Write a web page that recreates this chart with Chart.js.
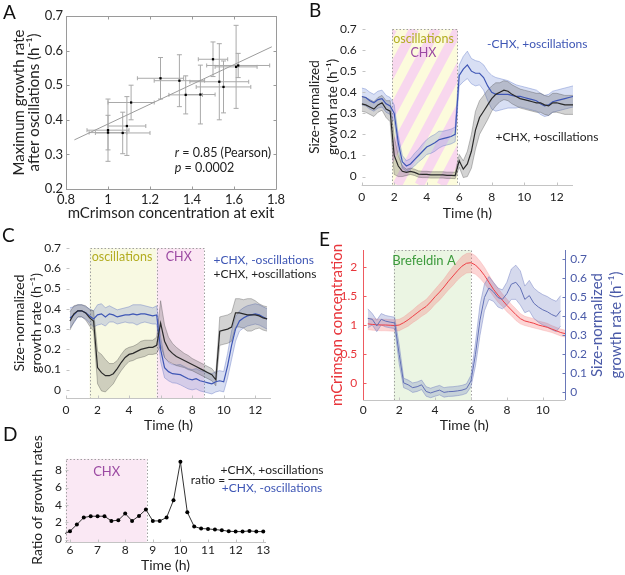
<!DOCTYPE html>
<html>
<head>
<meta charset="utf-8">
<script src="https://cdn.jsdelivr.net/npm/chart.js@4.4.1/dist/chart.umd.min.js"></script>
<style>
  body { margin: 0; background: #fff; }
  #fig { position: relative; width: 625px; height: 575px; overflow: hidden; font-family: Lato, sans-serif; }
  #fig canvas { position: absolute; }
  .tag { position: absolute; font-size: 19px; line-height: 1; color: #111; }
</style>
</head>
<body>
<div id="fig">
  <canvas id="chartA" width="305" height="225" style="left:0;top:0"></canvas>
  <canvas id="chartB" width="320" height="225" style="left:305px;top:0"></canvas>
  <canvas id="chartC" width="320" height="210" style="left:0;top:225px"></canvas>
  <canvas id="chartE" width="320" height="210" style="left:305px;top:225px"></canvas>
  <canvas id="chartD" width="330" height="140" style="left:0;top:435px"></canvas>
  <div class="tag" style="left:3px;top:2px">A</div>
  <div class="tag" style="left:309px;top:0px">B</div>
  <div class="tag" style="left:2px;top:225px">C</div>
  <div class="tag" style="left:3px;top:424px">D</div>
  <div class="tag" style="left:319px;top:229px">E</div>
</div>
<script>
// ---------- A: max growth rate vs mCrimson at exit ----------
const exitMcrimson    = [1.00, 1.00, 1.07, 1.09, 1.11, 1.25, 1.34, 1.37, 1.44, 1.50, 1.53, 1.55, 1.61, 1.62];
const exitMcrimsonErr = [0.09, 0.10, 0.13, 0.09, 0.11, 0.11, 0.12, 0.08, 0.07, 0.07, 0.14, 0.13, 0.10, 0.15];
const maxGrowth       = [0.363, 0.370, 0.362, 0.382, 0.450, 0.520, 0.513, 0.472, 0.473, 0.575, 0.510, 0.495, 0.553, 0.557];
const maxGrowthErr    = [0.05, 0.09, 0.06, 0.085, 0.05, 0.06, 0.075, 0.055, 0.085, 0.05, 0.11, 0.075, 0.12, 0.035];
const fitLineX = [0.84, 1.78];
const fitLineY = [0.342, 0.611];
const ticksAx = [0.8, 1, 1.2, 1.4, 1.6, 1.8];
const ticksAy = [0.2, 0.3, 0.4, 0.5, 0.6, 0.7];

// ---------- B: CHX during oscillations ----------
const timeB = [0, 0.25, 0.5, 0.75, 1, 1.25, 1.5, 1.75, 2, 2.25, 2.5, 2.75, 3, 3.25, 3.5, 3.75, 4, 4.25, 4.5, 4.75,
  5, 5.25, 5.5, 5.75, 6, 6.25, 6.5, 6.75, 7, 7.25, 7.5, 7.75, 8, 8.25, 8.5, 8.75, 9, 9.25, 9.5, 9.75,
  10, 10.25, 10.5, 10.75, 11, 11.25, 11.5, 11.75, 12, 12.25, 12.5, 12.75, 13];
const bNoChx = [0.38, 0.375, 0.36, 0.35, 0.365, 0.37, 0.345, 0.335, 0.3, 0.16, 0.07, 0.05, 0.06, 0.08, 0.1, 0.12,
  0.14, 0.15, 0.16, 0.175, 0.18, 0.185, 0.19, 0.2, 0.48, 0.51, 0.53, 0.5, 0.49, 0.49, 0.47, 0.43, 0.4, 0.39,
  0.39, 0.39, 0.39, 0.385, 0.38, 0.38, 0.375, 0.37, 0.365, 0.36, 0.345, 0.335, 0.34, 0.355, 0.36, 0.365, 0.37, 0.375, 0.38];
const bNoChxErr = [0.04, 0.04, 0.04, 0.04, 0.04, 0.04, 0.04, 0.04, 0.04, 0.035, 0.03, 0.025, 0.025, 0.03, 0.03, 0.035,
  0.035, 0.04, 0.04, 0.04, 0.035, 0.035, 0.035, 0.035, 0.05, 0.06, 0.065, 0.06, 0.06, 0.055, 0.06, 0.07, 0.08, 0.08,
  0.075, 0.07, 0.065, 0.06, 0.055, 0.05, 0.05, 0.05, 0.05, 0.05, 0.05, 0.05, 0.05, 0.05, 0.05, 0.05, 0.05, 0.05, 0.05];
const bChx = [0.345, 0.34, 0.33, 0.32, 0.34, 0.35, 0.32, 0.31, 0.1, 0.05, 0.025, 0.02, 0.025, 0.02, 0.012, 0.01,
  0.01, 0.008, 0.008, 0.008, 0.008, 0.006, 0.006, 0.005, 0.075, 0.035, 0.06, 0.12, 0.22, 0.28, 0.31, 0.34, 0.37, 0.39,
  0.4, 0.41, 0.405, 0.39, 0.38, 0.37, 0.365, 0.36, 0.355, 0.35, 0.35, 0.34, 0.335, 0.35, 0.35, 0.345, 0.34, 0.34, 0.34];
const bChxErr = [0.035, 0.035, 0.035, 0.035, 0.035, 0.035, 0.04, 0.05, 0.09, 0.05, 0.025, 0.015, 0.015, 0.015, 0.015, 0.015,
  0.015, 0.015, 0.015, 0.015, 0.015, 0.015, 0.015, 0.015, 0.03, 0.04, 0.06, 0.08, 0.09, 0.08, 0.075, 0.07, 0.06, 0.055,
  0.045, 0.045, 0.045, 0.045, 0.045, 0.045, 0.045, 0.045, 0.045, 0.045, 0.045, 0.045, 0.045, 0.045, 0.045, 0.045, 0.045, 0.045, 0.045];
const ticksTime = [0, 2, 4, 6, 8, 10, 12];
const ticksRate = [0, 0.1, 0.2, 0.3, 0.4, 0.5, 0.6, 0.7];

// ---------- C: CHX after oscillations ----------
const timeC = timeB.slice(1, 52);
const cNoOsc = [0.355, 0.37, 0.39, 0.39, 0.38, 0.365, 0.35, 0.37, 0.375, 0.36, 0.375, 0.37, 0.36, 0.365, 0.37, 0.37,
  0.375, 0.37, 0.375, 0.375, 0.37, 0.365, 0.37, 0.2, 0.11, 0.09, 0.08, 0.078, 0.075, 0.065, 0.055, 0.05, 0.055,
  0.045, 0.04, 0.035, 0.03, 0.04, 0.045, 0.04, 0.12, 0.22, 0.3, 0.34, 0.355, 0.365, 0.37, 0.375, 0.37, 0.36, 0.35];
const cNoOscErr = [0.05, 0.04, 0.03, 0.03, 0.03, 0.035, 0.04, 0.05, 0.05, 0.045, 0.04, 0.035, 0.035, 0.035, 0.035,
  0.04, 0.045, 0.05, 0.045, 0.04, 0.04, 0.04, 0.045, 0.06, 0.05, 0.045, 0.045, 0.045, 0.05, 0.05, 0.05, 0.05, 0.05,
  0.05, 0.05, 0.05, 0.05, 0.05, 0.05, 0.05, 0.06, 0.07, 0.06, 0.05, 0.05, 0.05, 0.05, 0.05, 0.05, 0.05, 0.05];
const cOsc = [0.34, 0.375, 0.39, 0.39, 0.38, 0.355, 0.34, 0.11, 0.085, 0.07, 0.07, 0.08, 0.105, 0.135, 0.16, 0.175,
  0.18, 0.19, 0.2, 0.205, 0.21, 0.21, 0.22, 0.33, 0.24, 0.2, 0.18, 0.165, 0.155, 0.145, 0.135, 0.125, 0.115, 0.105,
  0.095, 0.085, 0.075, 0.05, 0.29, 0.295, 0.3, 0.31, 0.38, 0.38, 0.375, 0.37, 0.37, 0.37, 0.365, 0.355, 0.35];
const cOscErr = [0.045, 0.04, 0.03, 0.03, 0.035, 0.04, 0.05, 0.08, 0.09, 0.08, 0.06, 0.05, 0.04, 0.04, 0.04, 0.035,
  0.035, 0.035, 0.04, 0.04, 0.035, 0.035, 0.04, 0.11, 0.08, 0.06, 0.05, 0.045, 0.04, 0.035, 0.035, 0.03, 0.03, 0.03,
  0.03, 0.03, 0.03, 0.03, 0.07, 0.07, 0.07, 0.07, 0.07, 0.07, 0.07, 0.08, 0.08, 0.07, 0.06, 0.06, 0.06];

// ---------- D: ratio of growth rates ----------
const timeD = [5.75, 6, 6.25, 6.5, 6.75, 7, 7.25, 7.5, 7.75, 8, 8.25, 8.5, 8.75, 9, 9.25, 9.5, 9.75, 10, 10.25,
  10.5, 10.75, 11, 11.25, 11.5, 11.75, 12, 12.25, 12.5, 12.75, 13];
const growthRatio = [0.6, 0.96, 1.73, 2.54, 2.69, 2.69, 2.69, 2.15, 2.23, 3.0, 2.15, 2.73, 3.46, 2.15, 2.15, 2.54,
  4.54, 8.96, 3.15, 1.5, 1.27, 1.23, 1.15, 1.08, 0.96, 0.92, 0.92, 1.0, 0.92, 0.92];
const ticksDx = [6, 7, 8, 9, 10, 11, 12, 13];
const ticksDy = [0, 2, 4, 6, 8];

// ---------- E: Brefeldin A ----------
const timeE = [0.25, 0.5, 0.75, 1, 1.25, 1.5, 1.75, 2, 2.25, 2.5, 2.75, 3, 3.25, 3.5, 3.75, 4, 4.25, 4.5, 4.75, 5,
  5.25, 5.5, 5.75, 6, 6.25, 6.5, 6.75, 7, 7.25, 7.5, 7.75, 8, 8.25, 8.5, 8.75, 9, 9.25, 9.5, 9.75, 10, 10.25,
  10.5, 10.75, 11, 11.25];
const eMcrimson = [1.02, 1.01, 1.005, 1.0, 1.0, 0.995, 0.99, 1.0, 1.04, 1.09, 1.15, 1.21, 1.27, 1.32, 1.4, 1.49,
  1.57, 1.66, 1.76, 1.85, 1.94, 2.02, 2.07, 2.08, 2.04, 1.96, 1.86, 1.74, 1.62, 1.52, 1.43, 1.34, 1.26, 1.18, 1.11,
  1.07, 1.05, 1.03, 1.0, 0.98, 0.96, 0.93, 0.9, 0.87, 0.85];
const eMcrimsonErr = [0.1, 0.1, 0.1, 0.1, 0.1, 0.1, 0.1, 0.1, 0.1, 0.11, 0.11, 0.12, 0.12, 0.12, 0.13, 0.13, 0.14,
  0.14, 0.15, 0.16, 0.16, 0.17, 0.17, 0.17, 0.16, 0.15, 0.14, 0.13, 0.12, 0.12, 0.11, 0.11, 0.1, 0.1, 0.09, 0.08,
  0.08, 0.08, 0.07, 0.07, 0.07, 0.06, 0.06, 0.06, 0.06];
const eGrowth = [0.39, 0.385, 0.35, 0.385, 0.375, 0.37, 0.366, 0.2, 0.05, 0.04, 0.025, 0.03, 0.04, 0.005, -0.003,
  0.005, 0.012, 0.0, 0.004, 0.005, 0.008, 0.012, 0.02, 0.06, 0.2, 0.38, 0.5, 0.55, 0.53, 0.5, 0.49, 0.52, 0.57,
  0.58, 0.55, 0.49, 0.51, 0.47, 0.45, 0.435, 0.425, 0.41, 0.4, 0.43];
const eGrowthErr = [0.05, 0.03, 0.03, 0.03, 0.03, 0.03, 0.03, 0.05, 0.025, 0.025, 0.025, 0.025, 0.025, 0.025, 0.025,
  0.025, 0.025, 0.025, 0.025, 0.025, 0.025, 0.025, 0.025, 0.03, 0.06, 0.08, 0.07, 0.06, 0.05, 0.05, 0.05, 0.06,
  0.08, 0.09, 0.09, 0.07, 0.08, 0.08, 0.08, 0.08, 0.08, 0.08, 0.08, 0.08];
const ticksEx = [0, 2, 4, 6, 8, 10];
const ticksEl = [0, 0.5, 1, 1.5, 2];

const FONT = 'Lato';
const INK = '#222';
const BLUE = '#3e56b5';
const OLIVE = '#b3ad22';
const PURPLE = '#9b49a2';

function px(chart, id, v) { return chart.scales[id].getPixelForValue(v); }

function axis(min, max, tickVals, size, fontSize, pad, more) {
  const cfg = {
    type: 'linear', min: min, max: max,
    grid: { display: false, drawTicks: false },
    border: { display: false },
    ticks: { autoSkip: false, maxRotation: 0, padding: pad, color: INK,
             font: { family: FONT, size: fontSize }, callback: v => String(v) },
    afterBuildTicks: s => { s.ticks = tickVals.map(v => ({ value: v })); },
    afterFit: s => { if (s.isHorizontal()) s.height = size; else s.width = size; }
  };
  return Object.assign(cfg, more || {});
}

function axisTitle(text, size, padding, color, lh) {
  return { display: true, text: text, color: color || INK, padding: padding,
           font: { family: FONT, size: size, lineHeight: lh || 1.2 } };
}

function options(padding, scales) {
  return {
    responsive: false, animation: false, events: [],
    layout: { padding: padding },
    plugins: { legend: { display: false }, tooltip: { enabled: false } },
    elements: { line: { tension: 0 } },
    scales: scales
  };
}

function bandSets(xs, mean, err, fill, edge, order, yId) {
  const shared = { pointRadius: 0, borderColor: edge, borderWidth: 0.8, order: order, yAxisID: yId || 'y' };
  return [
    Object.assign({ data: xs.map((x, i) => ({ x: x, y: mean[i] - err[i] })), fill: false }, shared),
    Object.assign({ data: xs.map((x, i) => ({ x: x, y: mean[i] + err[i] })), fill: '-1', backgroundColor: fill }, shared)
  ];
}

function lineSet(xs, ys, color, width, order, yId) {
  return { data: xs.map((x, i) => ({ x: x, y: ys[i] })), borderColor: color, borderWidth: width,
           pointRadius: 0, fill: false, order: order, yAxisID: yId || 'y' };
}

// shaded treatment windows with dotted outline
function shadeBoxes(boxes) {
  return {
    id: 'shadeBoxes',
    beforeDatasetsDraw(chart) {
      const ctx = chart.ctx, a = chart.chartArea;
      boxes.forEach(b => {
        const x0 = Math.max(px(chart, 'x', b.from), a.left);
        const x1 = px(chart, 'x', b.to);
        const y0 = px(chart, b.yScale || 'y', b.top);
        const y1 = a.bottom;
        ctx.save();
        ctx.fillStyle = b.fill;
        ctx.fillRect(x0, y0, x1 - x0, y1 - y0);
        if (b.stripe) {
          ctx.beginPath(); ctx.rect(x0, y0, x1 - x0, y1 - y0); ctx.clip();
          const h = y1 - y0, ang = 62 * Math.PI / 180, run = h / Math.tan(ang), period = 22;
          ctx.strokeStyle = b.stripe;
          ctx.lineWidth = period / 2 * Math.sin(ang);
          for (let s = x0 - run - period; s < x1 + period; s += period) {
            ctx.beginPath(); ctx.moveTo(s, y1); ctx.lineTo(s + run, y0); ctx.stroke();
          }
        }
        ctx.restore();
        ctx.save();
        ctx.strokeStyle = '#a0a0a0'; ctx.lineWidth = 1; ctx.setLineDash([1.5, 2]);
        ctx.strokeRect(Math.round(x0) + 0.5, Math.round(y0) + 0.5, Math.round(x1 - x0), Math.round(y1 - y0));
        ctx.restore();
      });
    }
  };
}

// axis lines and inward tick marks (matlab style)
function axisMarks(specs) {
  return {
    id: 'axisMarks',
    afterDatasetsDraw(chart) {
      const ctx = chart.ctx, a = chart.chartArea;
      specs.forEach(s => {
        const horiz = s.edge === 'bottom' || s.edge === 'top';
        const sc = chart.scales[s.scale];
        const e = Math.round(a[s.edge]) + 0.5;
        const dir = (s.edge === 'bottom' || s.edge === 'right') ? -1 : 1;
        ctx.save();
        ctx.strokeStyle = s.color; ctx.lineWidth = 1;
        ctx.beginPath();
        if (s.line) {
          if (horiz) { ctx.moveTo(a.left, e); ctx.lineTo(a.right, e); }
          else { ctx.moveTo(e, a.top); ctx.lineTo(e, a.bottom); }
        }
        s.vals.forEach(v => {
          const p = Math.round(sc.getPixelForValue(v)) + 0.5;
          if (horiz) { ctx.moveTo(p, e); ctx.lineTo(p, e + dir * s.len); }
          else { ctx.moveTo(e, p); ctx.lineTo(e + dir * s.len, p); }
        });
        ctx.stroke();
        ctx.restore();
      });
    }
  };
}

// text labels placed in data coordinates
function notes(items) {
  return {
    id: 'notes',
    afterDraw(chart) {
      const ctx = chart.ctx;
      items.forEach(n => {
        const x = px(chart, 'x', n.x), y = px(chart, n.yScale || 'y', n.y);
        ctx.save();
        if (n.rule) {
          const x1 = px(chart, 'x', n.x1);
          ctx.strokeStyle = n.color || INK; ctx.lineWidth = 1;
          ctx.beginPath(); ctx.moveTo(x, Math.round(y) + 0.5); ctx.lineTo(x1, Math.round(y) + 0.5); ctx.stroke();
          ctx.restore();
          return;
        }
        ctx.textBaseline = 'middle';
        ctx.fillStyle = n.color || INK;
        const parts = n.parts || [{ text: n.text }];
        const font = p => (p.italic ? 'italic ' : '') + (n.size || 12) + 'px ' + FONT;
        let total = 0;
        parts.forEach(p => { ctx.font = font(p); total += ctx.measureText(p.text).width; });
        let cx = x;
        if (!n.align || n.align === 'center') cx = x - total / 2;
        else if (n.align === 'right') cx = x - total;
        parts.forEach(p => { ctx.font = font(p); ctx.fillText(p.text, cx, y); cx += ctx.measureText(p.text).width; });
        ctx.restore();
      });
    }
  };
}

function errorBars(xs, ys, xe, ye) {
  return {
    id: 'errorBars',
    beforeDatasetsDraw(chart) {
      const ctx = chart.ctx, sx = chart.scales.x, sy = chart.scales.y;
      ctx.save(); ctx.strokeStyle = '#a9a9a9'; ctx.lineWidth = 1; ctx.beginPath();
      xs.forEach((x, i) => {
        const cx = sx.getPixelForValue(x), cy = sy.getPixelForValue(ys[i]);
        const l = sx.getPixelForValue(x - xe[i]), r = sx.getPixelForValue(x + xe[i]);
        const t = sy.getPixelForValue(ys[i] + ye[i]), b = sy.getPixelForValue(ys[i] - ye[i]);
        ctx.moveTo(l, cy); ctx.lineTo(r, cy);
        ctx.moveTo(l, cy - 2); ctx.lineTo(l, cy + 2);
        ctx.moveTo(r, cy - 2); ctx.lineTo(r, cy + 2);
        ctx.moveTo(cx, t); ctx.lineTo(cx, b);
        ctx.moveTo(cx - 2.5, t); ctx.lineTo(cx + 2.5, t);
        ctx.moveTo(cx - 2.5, b); ctx.lineTo(cx + 2.5, b);
      });
      ctx.stroke(); ctx.restore();
    }
  };
}

// ---------- chart A ----------
new Chart(document.getElementById('chartA'), {
  type: 'scatter',
  data: { datasets: [
    { data: exitMcrimson.map((x, i) => ({ x: x, y: maxGrowth[i] })), pointStyle: 'rect', pointRadius: 1.6,
      backgroundColor: '#000', borderWidth: 0, order: 0 },
    { data: fitLineX.map((x, i) => ({ x: x, y: fitLineY[i] })), showLine: true, borderColor: '#9c9c9c',
      borderWidth: 1, pointRadius: 0, order: 1 }
  ] },
  options: options({ left: 0, top: 16, right: 29, bottom: 0 }, {
    x: axis(0.8, 1.8, ticksAx, 36, 13, 3, { title: axisTitle('mCrimson concentration at exit', 15, { bottom: 3 }) }),
    y: axis(0.2, 0.7, ticksAy, 66, 13, 3, { title: axisTitle(['Maximum growth rate', 'after oscillations (h⁻¹)'], 15, { top: 12 }, INK, 1.0) })
  }),
  plugins: [
    errorBars(exitMcrimson, maxGrowth, exitMcrimsonErr, maxGrowthErr),
    axisMarks([
      { scale: 'x', edge: 'bottom', vals: ticksAx, line: true, len: 3, color: '#9a9a9a' },
      { scale: 'x', edge: 'top', vals: ticksAx, line: true, len: 3, color: '#9a9a9a' },
      { scale: 'y', edge: 'left', vals: ticksAy, line: true, len: 3, color: '#9a9a9a' },
      { scale: 'y', edge: 'right', vals: ticksAy, line: true, len: 3, color: '#9a9a9a' }
    ]),
    notes([
      { x: 1.318, y: 0.304, align: 'left', size: 12.5, parts: [{ text: 'r', italic: true }, { text: ' = 0.85 (Pearson)' }] },
      { x: 1.318, y: 0.262, align: 'left', size: 12.5, parts: [{ text: 'p', italic: true }, { text: ' = 0.0002' }] }
    ])
  ]
});

// ---------- chart B ----------
new Chart(document.getElementById('chartB'), {
  type: 'line',
  data: { datasets: [].concat(
    bandSets(timeB, bNoChx, bNoChxErr, 'rgba(115,140,215,0.28)', 'rgba(95,120,200,0.5)', 6),
    bandSets(timeB, bChx, bChxErr, 'rgba(80,80,80,0.25)', 'rgba(60,60,60,0.4)', 5),
    [lineSet(timeB, bNoChx, BLUE, 1.2, 1), lineSet(timeB, bChx, '#2a2a2a', 1.2, 0)]
  ) },
  options: options({ left: 0, top: 29, right: 52, bottom: 0 }, {
    x: axis(0, 13, ticksTime, 40, 12, 5, { title: axisTitle('Time (h)', 14, { bottom: 3 }) }),
    y: axis(-0.04, 0.7, ticksRate, 56.7, 12, 5, { title: axisTitle(['Size-normalized', 'growth rate (h⁻¹)'], 13.5, { top: 0 }, INK, 1.38) })
  }),
  plugins: [
    shadeBoxes([{ from: 1.88, to: 5.9, top: 0.7, fill: '#fcfbdc', stripe: '#f8d7ee' }]),
    axisMarks([
      { scale: 'x', edge: 'bottom', vals: ticksTime, line: true, len: 3, color: '#c4c4c4' },
      { scale: 'y', edge: 'left', vals: ticksRate, line: false, len: 3, color: '#c4c4c4' }
    ]),
    notes([
      { x: 3.8, y: 0.652, text: 'oscillations', color: OLIVE, size: 12.5 },
      { x: 3.8, y: 0.588, text: 'CHX', color: PURPLE, size: 12.5 },
      { x: 10.8, y: 0.628, text: '-CHX, +oscillations', color: BLUE, size: 12 },
      { x: 11.4, y: 0.185, text: '+CHX, +oscillations', color: INK, size: 12 }
    ])
  ]
});

// ---------- chart C ----------
new Chart(document.getElementById('chartC'), {
  type: 'line',
  data: { datasets: [].concat(
    bandSets(timeC, cNoOsc, cNoOscErr, 'rgba(115,135,205,0.28)', 'rgba(95,115,195,0.5)', 6),
    bandSets(timeC, cOsc, cOscErr, 'rgba(80,80,80,0.25)', 'rgba(60,60,60,0.4)', 5),
    [lineSet(timeC, cNoOsc, BLUE, 1.2, 1), lineSet(timeC, cOsc, '#2a2a2a', 1.2, 0)]
  ) },
  options: options({ left: 0, top: 23, right: 49, bottom: 0 }, {
    x: axis(0, 13, ticksTime, 37, 12, 5, { title: axisTitle('Time (h)', 14, { bottom: 1.5 }) }),
    y: axis(-0.04, 0.7, ticksRate, 66, 12, 5, { title: axisTitle(['Size-normalized', 'growth rate (h⁻¹)'], 14, { top: 11.5 }, INK, 1.2) })
  }),
  plugins: [
    shadeBoxes([
      { from: 1.5, to: 5.75, top: 0.7, fill: '#f8f9e2' },
      { from: 5.75, to: 8.75, top: 0.7, fill: '#fbe6f3' }
    ]),
    axisMarks([
      { scale: 'x', edge: 'bottom', vals: ticksTime, line: true, len: 3, color: '#c4c4c4' },
      { scale: 'y', edge: 'left', vals: ticksRate, line: false, len: 3, color: '#c4c4c4' }
    ]),
    notes([
      { x: 3.55, y: 0.655, text: 'oscillations', color: OLIVE, size: 12.5 },
      { x: 7.15, y: 0.655, text: 'CHX', color: PURPLE, size: 12.5 },
      { x: 9.35, y: 0.638, text: '+CHX, -oscillations', color: BLUE, size: 12, align: 'left' },
      { x: 9.35, y: 0.573, text: '+CHX, +oscillations', color: INK, size: 12, align: 'left' }
    ])
  ]
});

// ---------- chart D ----------
new Chart(document.getElementById('chartD'), {
  type: 'line',
  data: { datasets: [{
    data: timeD.map((x, i) => ({ x: x, y: growthRatio[i] })), borderColor: '#333', borderWidth: 1,
    pointRadius: timeD.map(t => (t < 5.82 ? 0 : 2)), pointBackgroundColor: '#000', pointBorderWidth: 0, fill: false
  }] },
  options: options({ left: 0, top: 23, right: 64, bottom: 0 }, {
    x: axis(5.82, 13.1, ticksDx, 33, 12, 1, { title: axisTitle('Time (h)', 14, { bottom: 1.5 }) }),
    y: axis(-0.28, 9.4, ticksDy, 65, 12, 3, { title: axisTitle('Ratio of growth rates', 14, { top: 29 }) })
  }),
  plugins: [
    shadeBoxes([{ from: 5.85, to: 8.78, top: 9.3, fill: '#fae8f4' }]),
    axisMarks([
      { scale: 'x', edge: 'bottom', vals: ticksDx, line: true, len: 3, color: '#c4c4c4' },
      { scale: 'y', edge: 'left', vals: ticksDy, line: false, len: 3, color: '#c4c4c4' }
    ]),
    notes([
      { x: 7.33, y: 7.8, text: 'CHX', color: PURPLE, size: 13 },
      { x: 11.62, y: 6.85, text: 'ratio =', size: 12, align: 'right' },
      { x: 13.32, y: 8.0, text: '+CHX, +oscillations', size: 12 },
      { rule: true, x: 11.74, x1: 14.98, y: 6.96 },
      { x: 13.32, y: 5.9, text: '+CHX, -oscillations', size: 12, color: BLUE }
    ])
  ]
});

// ---------- chart E ----------
new Chart(document.getElementById('chartE'), {
  type: 'line',
  data: { datasets: [].concat(
    bandSets(timeE, eMcrimson, eMcrimsonErr, 'rgba(245,125,125,0.32)', 'rgba(245,140,140,0.35)', 6, 'y'),
    bandSets(timeE.slice(0, 44), eGrowth, eGrowthErr, 'rgba(105,120,190,0.28)', 'rgba(105,120,190,0.55)', 5, 'y2'),
    [lineSet(timeE, eMcrimson, '#ee3f46', 1, 1, 'y'), lineSet(timeE.slice(0, 44), eGrowth, '#6270b5', 1, 0, 'y2')]
  ) },
  options: options({ left: 0, top: 25, right: 0, bottom: 0 }, {
    x: axis(0, 11.25, ticksEx, 35, 12, 3, { title: axisTitle('Time (h)', 14, { bottom: 1.5 }) }),
    y: axis(-0.3, 2.3, ticksEl, 58.3, 12, 6, {
      position: 'left',
      ticks: { autoSkip: false, padding: 6, color: '#e8353b', font: { family: FONT, size: 12 }, callback: v => String(v) },
      title: axisTitle('mCrimson concentration', 15, { top: 23 }, '#e8353b')
    }),
    y2: axis(-0.04, 0.75, ticksRate, 59.8, 12, 5, {
      position: 'right',
      ticks: { autoSkip: false, padding: 5, color: '#4a5aa8', font: { family: FONT, size: 12 }, callback: v => String(v) }
    })
  }),
  plugins: [
    shadeBoxes([{ from: 1.7, to: 6, top: 2.3, fill: '#ebf5e3' }]),
    axisMarks([
      { scale: 'x', edge: 'bottom', vals: ticksEx, line: true, len: 3, color: '#c4c4c4' },
      { scale: 'y', edge: 'left', vals: ticksEl, line: true, len: 3, color: '#ee5a60' },
      { scale: 'y2', edge: 'right', vals: ticksRate, line: true, len: 3, color: '#6a78b8' }
    ]),
    notes([{ x: 3.38, y: 2.12, text: 'Brefeldin A', color: '#3b9a3b', size: 13 }]),
    {
      id: 'rightTitle',
      afterDraw(chart) {
        const ctx = chart.ctx, a = chart.chartArea, cy = (a.top + a.bottom) / 2;
        ['Size-normalized', 'growth rate (h⁻¹)'].forEach((t, i) => {
          ctx.save();
          ctx.translate(a.right + 32 + i * 19, cy);
          ctx.rotate(-Math.PI / 2);
          ctx.textAlign = 'center'; ctx.textBaseline = 'middle';
          ctx.font = '15px ' + FONT; ctx.fillStyle = '#4a5aa8';
          ctx.fillText(t, 0, 0);
          ctx.restore();
        });
      }
    }
  ]
});
</script>
</body>
</html>
